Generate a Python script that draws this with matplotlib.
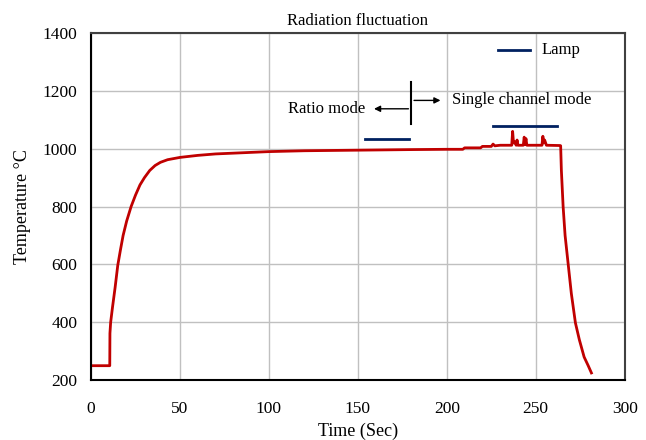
import matplotlib
matplotlib.use('Agg')
import matplotlib.pyplot as plt

plt.rcParams.update({
    'font.family': 'Liberation Serif',
    'font.size': 12,
})

# temperature trace
time = [0, 10.5, 10.6, 11.0, 12.0, 13.5, 15.0, 16.5, 18.0, 20.0, 22.5, 25.0, 27.5,
        30.0, 33.0, 36.0, 39.0, 43.0, 50.0, 60.0, 70.0, 85.0, 100.0, 120.0, 150.0,
        180.0, 200.0, 209.0, 210.0, 219.0, 220.0, 225.0, 226.0, 227.0, 230.0, 236.5,
        237.0, 237.5, 238.0, 239.0, 239.5, 240.0, 243.0, 243.5, 244.0, 244.5, 245.0,
        253.5, 254.0, 254.5, 255.0, 256.0, 263.8, 264.0, 264.4, 265.4, 266.5, 268.2,
        270.0, 272.3, 274.5, 277.2, 279.5, 281.3]
temp = [250, 250, 362, 400, 450, 520, 597, 650, 700, 750, 800, 840, 875,
        900, 925, 942, 953, 962, 970, 977, 982, 986, 990, 993, 995,
        997, 998, 998, 1003, 1003, 1008, 1008, 1016, 1010, 1012, 1012,
        1060, 1020, 1025, 1012, 1030, 1012, 1012, 1040, 1015, 1035, 1012,
        1012, 1043, 1020, 1030, 1012, 1011, 1010, 926, 799, 700, 603,
        500, 398, 340, 280, 250, 225]

lamp_x = [[154, 179], [226, 262]]
lamp_y = [1032, 1078]

fig, ax = plt.subplots(figsize=(6.46, 4.4), dpi=100)
fig.subplots_adjust(left=0.141, right=0.967, top=0.925, bottom=0.136)

ax.plot(time, temp, color='#c00000', lw=2)
for xs, yv in zip(lamp_x, lamp_y):
    ax.plot(xs, [yv, yv], color='#002060', lw=2)

# legend drawn by hand
ax.plot([228.7, 246.6], [1341, 1341], color='#002060', lw=2)
ax.text(253, 1341, 'Lamp', va='center', ha='left', fontsize=12)

# mode switch marker
ax.plot([180, 180], [1084, 1229], color='black', lw=1.5)
ax.annotate('', xy=(198, 1167), xytext=(180, 1167),
            arrowprops=dict(arrowstyle='-|>', color='black', lw=1, mutation_scale=9))
ax.annotate('', xy=(157.5, 1138), xytext=(180, 1138),
            arrowprops=dict(arrowstyle='-|>', color='black', lw=1, mutation_scale=9))
ax.text(203, 1167, 'Single channel mode', va='center', ha='left', fontsize=12)
ax.text(154, 1138, 'Ratio mode', va='center', ha='right', fontsize=12)

ax.set_xlim(0, 300)
ax.set_ylim(200, 1400)
ax.set_xticks(range(0, 301, 50))
ax.set_yticks(range(200, 1401, 200))
ax.grid(True, color='#c0c0c0', lw=1)
ax.set_axisbelow(True)
for s in ax.spines.values():
    s.set_color('#404040')
    s.set_linewidth(1.5)
ax.spines['left'].set_color('black')
ax.spines['bottom'].set_color('black')
ax.tick_params(axis='x', length=0, pad=15, labelsize=12.5)
ax.tick_params(axis='y', length=0, pad=10, labelsize=12.5)

ax.set_title('Radiation fluctuation', fontsize=12, pad=6)
ax.set_xlabel('Time (Sec)', fontsize=13, labelpad=4)
ax.set_ylabel('Temperature °C', fontsize=13, labelpad=8)

plt.savefig('out.png', dpi=100)
